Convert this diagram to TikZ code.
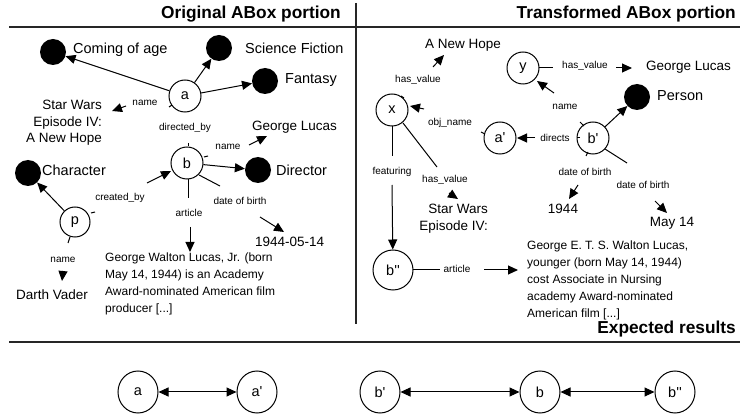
\documentclass[tikz,border=0pt]{standalone}
\usepackage{fontspec}
\setmainfont{Liberation Sans}
\usetikzlibrary{arrows.meta,shapes.geometric}
\newcommand{\sq}{\textquotesingle}
\tikzset{
 ent/.style={circle, draw, line width=1pt, minimum size=32pt, inner sep=0pt, font=\fontsize{14.5}{16}\selectfont, fill=white},
 entbig/.style={ent, minimum size=40pt},
 res/.style={ellipse, draw, line width=1pt, minimum width=40pt, minimum height=42pt, inner sep=0pt, font=\fontsize{14.5}{16}\selectfont},
 cls/.style={circle, fill=black, minimum size=26pt, inner sep=0pt},
 big/.style={font=\fontsize{14.5}{17}\selectfont, inner sep=0pt},
 val/.style={font=\fontsize{13.5}{17}\selectfont, inner sep=0pt},
 lab/.style={font=\fontsize{10}{12}\selectfont, inner sep=1pt},
 para/.style={font=\fontsize{12}{17}\selectfont, align=left, inner sep=0pt},
 ttl/.style={font=\fontsize{17.3}{19}\selectfont\bfseries, inner sep=0pt},
 edge/.style={line width=1pt},
 arr/.style={line width=1pt, -{Triangle[length=10pt,width=9pt]}},
 darr/.style={line width=1pt, {Triangle[length=10pt,width=9pt]}-{Triangle[length=10pt,width=9pt]}},
 rule/.style={line width=1.6pt, black!85},
}
\begin{document}
\begin{tikzpicture}[x=1pt,y=-1pt]
\useasboundingbox (0,0) rectangle (740,414);
% frame lines
\coordinate (hl1) at (9,27); \coordinate (hr1) at (740,27);
\coordinate (vt) at (356,3); \coordinate (vb) at (356,324);
\coordinate (hl2) at (9,342); \coordinate (hr2) at (740,342);
\draw[rule] (hl1) -- (hr1);
\draw[rule] (vt) -- (vb);
\draw[rule] (hl2) -- (hr2);
\node[ttl, anchor=east] (t1) at (341,14) {Original ABox portion};
\node[ttl, anchor=east] (t2) at (736,14) {Transformed ABox portion};
\node[ttl, anchor=east] (t3) at (736,329) {Expected results};

% ---------- left part ----------
\node[cls] (coa) at (53,52) {};
\node[big, anchor=west] (coal) at (73,50) {Coming of age};
\node[cls] (sf) at (219,48) {};
\node[big, anchor=west] (sfl) at (245,48) {Science Fiction};
\node[cls] (fan) at (265,81) {};
\node[big, anchor=west] (fanl) at (285,80) {Fantasy};
\node[ent] (a) at (185,96) {a};
\draw[arr] (a) -- (coa);
\draw[arr] (a) -- (sf);
\draw[arr] (a) -- (fan);

\node[val, align=right, anchor=east, font=\fontsize{13.5}{16.5}\selectfont] (sw) at (102,123) {Star Wars\\Episode IV:\\A New Hope};
\node[lab] (an) at (145,103) {name};
\coordinate (an0) at (172,105); \coordinate (an1) at (169,107);
\draw[edge] (an0) -- (an1);
\coordinate (an2) at (126,106); \coordinate (an3) at (112,111);
\draw[arr] (an2) -- (an3);

\node[lab] (dir) at (185,128) {directed\_by};
\node[ent] (b) at (187,163) {b};
\coordinate (d0) at (188,143); \coordinate (d1) at (188,146);
\draw[edge] (d0) -- (d1);

\node[val, anchor=west] (gl) at (252,127) {George Lucas};
\node[lab] (bn) at (228,147) {name};
\coordinate (bn0) at (204,157); \coordinate (bn1) at (208,156);
\draw[edge] (bn0) -- (bn1);
\coordinate (bn2) at (249,145); \coordinate (bn3) at (267,136);
\draw[arr] (bn2) -- (bn3);

\node[cls] (dirc) at (258,170) {};
\node[big, anchor=west] (dirl) at (276,170) {Director};
\draw[arr] (b) -- (dirc);

\node[cls] (chr) at (28,173) {};
\node[big, anchor=west] (chrl) at (42,170) {Character};
\node[ent, minimum size=30pt] (p) at (75,222) {p};
\draw[arr] (p) -- (chr);
\node[lab] (cb) at (120,198) {created\_by};
\coordinate (cb0) at (91,213); \coordinate (cb1) at (95,212);
\draw[edge] (cb0) -- (cb1);
\coordinate (cb2) at (147,183); \coordinate (cb3) at (171,171);
\draw[arr] (cb2) -- (cb3);

\node[lab] (pn) at (63,260) {name};
\coordinate (pn0) at (70,237); \coordinate (pn1) at (68,243);
\draw[edge] (pn0) -- (pn1);
\coordinate (pn2) at (63,271); \coordinate (pn3) at (62,281);
\draw[arr] (pn2) -- (pn3);
\node[val] (dv) at (52,295) {Darth Vader};

\coordinate (ar0) at (188,179); \coordinate (ar1) at (188,198);
\draw[edge] (ar0) -- (ar1);
\node[lab] (art) at (189,213) {article};
\coordinate (ar2) at (190,227); \coordinate (ar3) at (190,252);
\draw[arr] (ar2) -- (ar3);
\node[para, anchor=north west] (p1) at (105,253) {George Walton Lucas, Jr. (born\\May 14, 1944) is an Academy\\Award-nominated American film\\producer [...]};

\coordinate (db0) at (199,175); \coordinate (db1) at (220,186);
\draw[edge] (db0) -- (db1);
\node[lab] (dob) at (240,201) {date of birth};
\coordinate (db2) at (260,217); \coordinate (db3) at (284,232);
\draw[arr] (db2) -- (db3);
\node[val, anchor=west] (bd) at (255,242) {1944-05-14};

% ---------- right part ----------
\node[val] (anh) at (463,45) {A New Hope};
\coordinate (h2) at (433,67); \coordinate (h3) at (444,55);
\draw[arr] (h2) -- (h3);
\node[lab] (hv1) at (418,80) {has\_value};
\node[ent] (x) at (392,110) {x};
\coordinate (h0) at (401,96); \coordinate (h1) at (404,98);
\draw[edge] (h0) -- (h1);

\node[ent] (y) at (523,68) {y};
\coordinate (yv0) at (539,68); \coordinate (yv1) at (553,68);
\draw[edge] (yv0) -- (yv1);
\node[lab] (hv2) at (585,66) {has\_value};
\coordinate (yv2) at (616,68); \coordinate (yv3) at (632,68);
\draw[arr] (yv2) -- (yv3);
\node[val, anchor=west] (gl2) at (646,67) {George Lucas};

\node[lab] (yn) at (565,107) {name};
\coordinate (yn2) at (554,93); \coordinate (yn3) at (537,81);
\draw[arr] (yn2) -- (yn3);

\node[cls] (per) at (637,97) {};
\node[big, anchor=west] (perl) at (657,96) {Person};

\node[ent] (bp) at (593,138) {b\sq};
\node[ent] (ap) at (500,138) {a\sq};
\draw[arr] (bp) -- (per);
\coordinate (yn0) at (580,122); \coordinate (yn1) at (584,126);
\draw[edge] (yn0) -- (yn1);

\node[lab] (dr) at (555,138) {directs};
\coordinate (dr0) at (580,138); \coordinate (dr1) at (577,138);
\draw[edge] (dr0) -- (dr1);
\coordinate (dr2) at (535,138); \coordinate (dr3) at (517,138);
\draw[arr] (dr2) -- (dr3);

\node[lab] (on) at (450,123) {obj\_name};
\coordinate (on0) at (485,134); \coordinate (on1) at (481,132);
\draw[edge] (on0) -- (on1);
\coordinate (on2) at (424,109); \coordinate (on3) at (410,106);
\draw[arr] (on2) -- (on3);

\coordinate (f0) at (392,126); \coordinate (f1) at (392,156);
\draw[edge] (f0) -- (f1);
\node[lab] (feat) at (392,172) {featuring};
\node[entbig] (bpp) at (393,270) {b\sq\sq};
\coordinate (f2) at (392,185);
\draw[arr] (f2) -- (bpp);

\coordinate (hx0) at (403,123); \coordinate (hx1) at (437,167);
\draw[edge] (hx0) -- (hx1);
\node[lab] (hv3) at (445,180) {has\_value};
\coordinate (hx2) at (449,193); \coordinate (hx3) at (458,199);
\draw[arr] (hx2) -- (hx3);
\node[val, align=right, anchor=north east, font=\fontsize{13.5}{17}\selectfont] (sw2) at (488,204) {Star Wars\\Episode IV:};

\coordinate (bd0) at (588,152); \coordinate (bd1) at (586,156);
\draw[edge] (bd0) -- (bd1);
\node[lab] (dob2) at (585,172) {date of birth};
\coordinate (bd2) at (578,185); \coordinate (bd3) at (569,199);
\draw[arr] (bd2) -- (bd3);
\node[val] (y44) at (563,209) {1944};

\coordinate (bm0) at (605,149); \coordinate (bm1) at (627,163);
\draw[edge] (bm0) -- (bm1);
\node[lab] (dob3) at (643,185) {date of birth};
\coordinate (bm2) at (655,201); \coordinate (bm3) at (667,213);
\draw[arr] (bm2) -- (bm3);
\node[val] (may) at (672,223) {May 14};

\coordinate (ba0) at (413,270); \coordinate (ba1) at (440,270);
\draw[edge] (ba0) -- (ba1);
\node[lab] (art2) at (457,269) {article};
\coordinate (ba2) at (484,270); \coordinate (ba3) at (518,270);
\draw[arr] (ba2) -- (ba3);
\node[para, anchor=north west] (p2) at (527,241) {George E. T. S. Walton Lucas,\\younger (born May 14, 1944)\\cost Associate in Nursing\\academy Award-nominated\\American film [...]};

% ---------- expected results ----------
\node[res] (ra) at (138,392) {a};
\node[res] (rap) at (257,392) {a\sq};
\node[res] (rbp) at (380,392) {b\sq};
\node[res] (rb) at (540,392) {b};
\node[res] (rbpp) at (675,392) {b\sq\sq};
\draw[darr] (ra) -- (rap);
\draw[darr] (rbp) -- (rb);
\draw[darr] (rb) -- (rbpp);
\end{tikzpicture}
\end{document}
